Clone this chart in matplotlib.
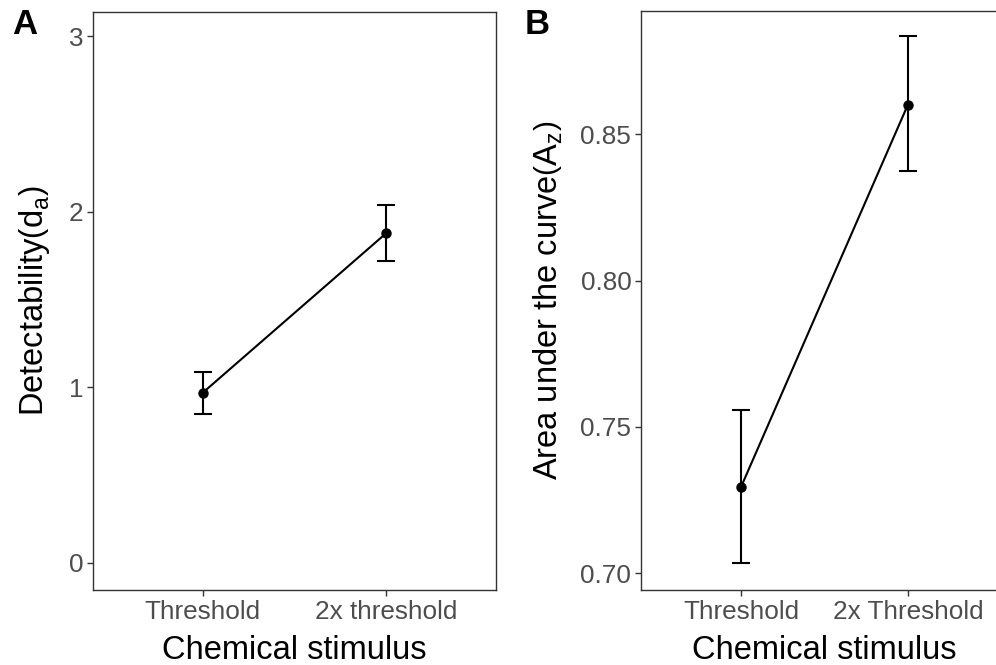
import matplotlib
matplotlib.use("Agg")
import matplotlib.pyplot as plt
import numpy as np

plt.rcParams["font.family"] = ["Liberation Sans", "DejaVu Sans"]
plt.rcParams["mathtext.fontset"] = "custom"
plt.rcParams["mathtext.rm"] = "Liberation Sans"
plt.rcParams["mathtext.it"] = "Liberation Sans:italic"

# detectability (d_a) per stimulus level
labels_a = ["Threshold", "2x threshold"]
da_mean = [0.97, 1.877]
da_low = [0.846, 1.717]
da_high = [1.089, 2.036]

# area under the ROC curve (A_z)
labels_b = ["Threshold", "2x Threshold"]
az_mean = [0.7295, 0.8602]
az_low = [0.7034, 0.8374]
az_high = [0.7556, 0.8835]

grey = "#4D4D4D"
frame = "#333333"


def panel(ax, labels, mean, low, high, ylabel):
    x = np.arange(1, len(labels) + 1)
    mean = np.array(mean)
    err = [mean - np.array(low), np.array(high) - mean]
    ax.plot(x, mean, color="black", lw=1.5, zorder=2)
    ax.errorbar(x, mean, yerr=err, fmt="o", color="black", ms=6.5,
                elinewidth=1.5, capsize=6.5, capthick=1.5, zorder=3)
    ax.set_xlim(0.4, len(labels) + 0.6)
    ax.set_xticks(x)
    ax.set_xticklabels(labels)
    ax.set_xlabel("Chemical stimulus", fontsize=23.5, labelpad=8)
    ax.set_ylabel(ylabel, fontsize=23.5, labelpad=11)
    ax.tick_params(labelsize=18.8, labelcolor=grey, color=frame,
                   length=4, width=1, pad=3)
    for s in ax.spines.values():
        s.set_color(frame)
        s.set_linewidth(1)


fig = plt.figure(figsize=(9.96, 6.65), dpi=100)
ax1 = fig.add_axes([0.0934, 0.1128, 0.4046, 0.8692])
ax2 = fig.add_axes([0.6436, 0.1128, 0.3685, 0.8707])

panel(ax1, labels_a, da_mean, da_low, da_high,
      r"Detectability$\left(\mathrm{d_a}\right)$")
ax1.set_ylim(-0.154, 3.137)
ax1.set_yticks([0, 1, 2, 3])

panel(ax2, labels_b, az_mean, az_low, az_high,
      r"Area under the curve$\left(\mathrm{A_z}\right)$")
ax2.set_ylim(0.6942, 0.8922)
ax2.set_yticks([0.70, 0.75, 0.80, 0.85])
ax2.set_yticklabels(["0.70", "0.75", "0.80", "0.85"])

fig.text(0.012, 0.963, "A", fontsize=25, fontweight="bold", va="center")
fig.text(0.527, 0.963, "B", fontsize=25, fontweight="bold", va="center")

fig.savefig("out.png", dpi=100)
